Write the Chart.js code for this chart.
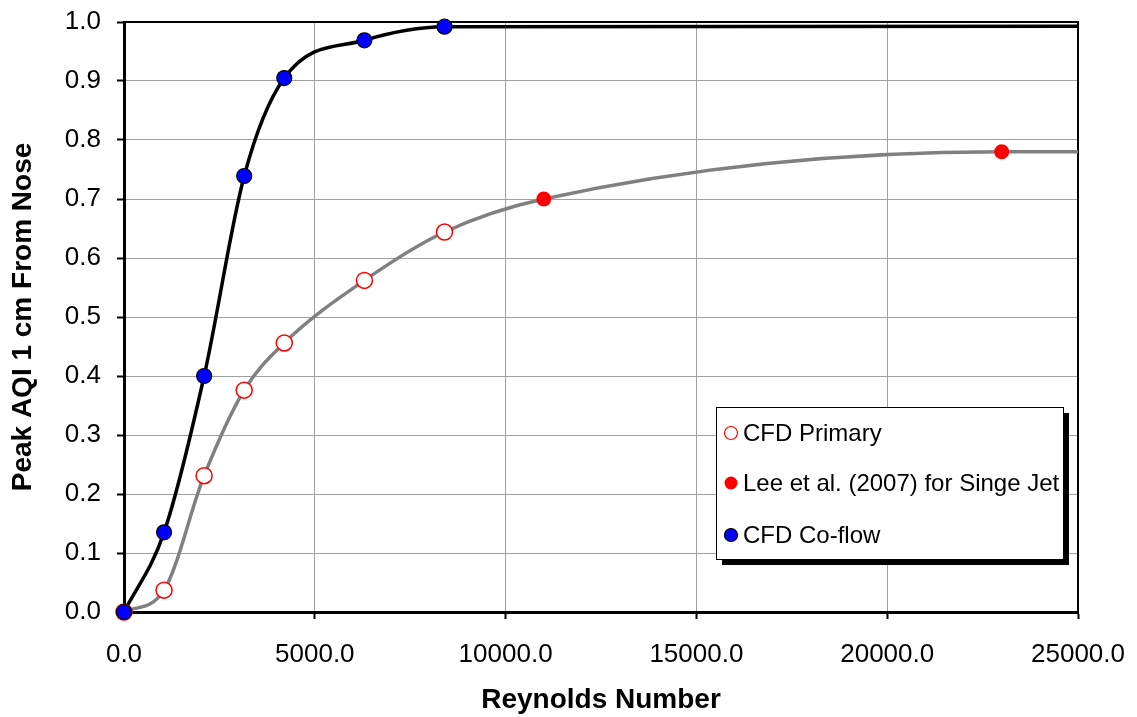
<!DOCTYPE html>
<html>
<head>
<meta charset="utf-8">
<script src="https://cdn.jsdelivr.net/npm/chart.js@4.4.1/dist/chart.umd.min.js"></script>
<style>
  html, body { margin: 0; padding: 0; background: #fff; }
  #wrap { width: 1137px; height: 717px; }
</style>
</head>
<body>
<div id="wrap"><canvas id="aqi-chart"></canvas></div>
<script>
// CFD runs share the same Reynolds numbers
const reynolds = [0, 1050, 2100, 3150, 4200, 6300, 8400];
const cfdPrimary = [0, 0.037, 0.231, 0.376, 0.456, 0.562, 0.644];
const cfdCoflow = [0, 0.135, 0.40, 0.739, 0.905, 0.969, 0.992];

// Lee et al. (2007) single jet
const leeReynolds = [11000, 23000];
const leeSingleJet = [0.70, 0.78];

// where the smoothed curves end at the right edge
const primaryCurveEnd = { x: 25000, y: 0.78 };
const coflowCurveEnd = { x: 25000, y: 0.993 };

const xTicks = [0, 5000, 10000, 15000, 20000, 25000];
const yTicks = [0, 0.1, 0.2, 0.3, 0.4, 0.5, 0.6, 0.7, 0.8, 0.9, 1.0];

const toPoints = (xs, ys) => xs.map((x, i) => ({ x: x, y: ys[i] }));

const primaryPoints = toPoints(reynolds, cfdPrimary);
const coflowPoints = toPoints(reynolds, cfdCoflow);
const leePoints = toPoints(leeReynolds, leeSingleJet);

const FONT = "'Liberation Sans', Arial, sans-serif";

// top + right frame of the plot area
const frameBorder = {
  id: "frameBorder",
  beforeDatasetsDraw(chart) {
    const { ctx, chartArea: a } = chart;
    ctx.save();
    ctx.strokeStyle = "#000";
    ctx.lineWidth = 2;
    ctx.beginPath();
    ctx.moveTo(a.left, a.top);
    ctx.lineTo(a.right, a.top);
    ctx.lineTo(a.right, a.bottom);
    ctx.stroke();
    ctx.restore();
  },
};

// boxed legend with drop shadow, markers only
const boxLegend = {
  id: "boxLegend",
  afterDraw(chart) {
    const ctx = chart.ctx;
    const box = { x: 716, y: 407, w: 347, h: 152 };
    ctx.save();
    ctx.fillStyle = "#000";
    ctx.fillRect(box.x + 6, box.y + 6, box.w, box.h);
    ctx.fillStyle = "#fff";
    ctx.fillRect(box.x, box.y, box.w, box.h);
    ctx.strokeStyle = "#000";
    ctx.lineWidth = 1;
    ctx.strokeRect(box.x + 0.5, box.y + 0.5, box.w, box.h);

    const entries = chart.data.datasets.filter((d) => d.legend);
    const rowY = [433, 483, 535];
    entries.forEach((d, i) => {
      const y = rowY[i];
      ctx.beginPath();
      ctx.arc(731, y, 6.5, 0, Math.PI * 2);
      ctx.fillStyle = d.pointBackgroundColor;
      ctx.fill();
      if (d.pointBorderWidth > 0) {
        ctx.lineWidth = 1.2;
        ctx.strokeStyle = d.pointBorderColor;
        ctx.stroke();
      }
      ctx.fillStyle = "#000";
      ctx.font = "24px " + FONT;
      ctx.textBaseline = "middle";
      ctx.textAlign = "left";
      ctx.fillText(d.label, 743, y + 1);
    });
    ctx.restore();
  },
};

// keep the plot area where the layout padding puts it
const noAutoPadding = (scale) => {
  scale.paddingTop = 0;
  scale.paddingBottom = 0;
  scale.paddingLeft = 0;
  scale.paddingRight = 0;
};

const ctx = document.getElementById("aqi-chart").getContext("2d");

new Chart(ctx, {
  type: "scatter",
  data: {
    datasets: [
      {
        label: "CFD Primary",
        legend: true,
        data: primaryPoints,
        pointRadius: 8,
        pointBackgroundColor: "#ffffff",
        pointBorderColor: "#ff0000",
        pointBorderWidth: 1.5,
        showLine: false,
        clip: false,
        order: 0,
      },
      {
        label: "Lee et al. (2007) for Singe Jet",
        legend: true,
        data: leePoints,
        pointRadius: 7.5,
        pointBackgroundColor: "#ff0000",
        pointBorderColor: "#ff0000",
        pointBorderWidth: 0,
        showLine: false,
        clip: false,
        order: 0,
      },
      {
        label: "CFD Co-flow",
        legend: true,
        data: coflowPoints,
        pointRadius: 7.5,
        pointBackgroundColor: "#0000ff",
        pointBorderColor: "#000000",
        pointBorderWidth: 1.2,
        showLine: false,
        clip: false,
        order: -1,
      },
      {
        label: "primary curve",
        data: [...primaryPoints, ...leePoints, primaryCurveEnd],
        showLine: true,
        borderColor: "#808080",
        borderWidth: 3.5,
        pointRadius: 0,
        cubicInterpolationMode: "monotone",
        order: 2,
      },
      {
        label: "co-flow curve",
        data: [...coflowPoints, coflowCurveEnd],
        showLine: true,
        borderColor: "#000000",
        borderWidth: 3.5,
        pointRadius: 0,
        cubicInterpolationMode: "monotone",
        order: 1,
      },
    ],
  },
  options: {
    responsive: true,
    maintainAspectRatio: false,
    animation: false,
    events: [],
    layout: { padding: { top: 22, right: 59, bottom: 0, left: 0 } },
    plugins: {
      legend: { display: false },
      tooltip: { enabled: false },
    },
    scales: {
      x: {
        type: "linear",
        min: 0,
        max: 25000,
        afterFit: (scale) => { scale.height = 105; noAutoPadding(scale); },
        afterBuildTicks: (scale) => { scale.ticks = xTicks.map((v) => ({ value: v })); },
        ticks: {
          color: "#000",
          font: { family: FONT, size: 26 },
          padding: 20,
          maxRotation: 0,
          callback: (v) => Number(v).toFixed(1),
        },
        grid: { color: "#a0a0a0", lineWidth: 1, tickColor: "#000", tickLength: 7, tickWidth: 2 },
        border: { color: "#000", width: 3 },
        title: {
          display: true,
          text: "Reynolds Number",
          color: "#000",
          font: { family: FONT, size: 28, weight: "bold" },
          padding: { top: 0, bottom: 0 },
        },
      },
      y: {
        type: "linear",
        min: 0,
        max: 1.0,
        afterFit: (scale) => { scale.width = 124; noAutoPadding(scale); },
        afterBuildTicks: (scale) => { scale.ticks = yTicks.map((v) => ({ value: v })); },
        ticks: {
          color: "#000",
          font: { family: FONT, size: 26 },
          padding: 16,
          callback: (v) => Number(v).toFixed(1),
        },
        grid: { color: "#a0a0a0", lineWidth: 1, tickColor: "#000", tickLength: 7, tickWidth: 2 },
        border: { color: "#000", width: 3 },
        title: {
          display: true,
          text: "Peak AQI 1 cm From Nose",
          color: "#000",
          font: { family: FONT, size: 28, weight: "bold" },
          padding: { top: 6, bottom: 0 },
        },
      },
    },
  },
  plugins: [frameBorder, boxLegend],
});
</script>
</body>
</html>
